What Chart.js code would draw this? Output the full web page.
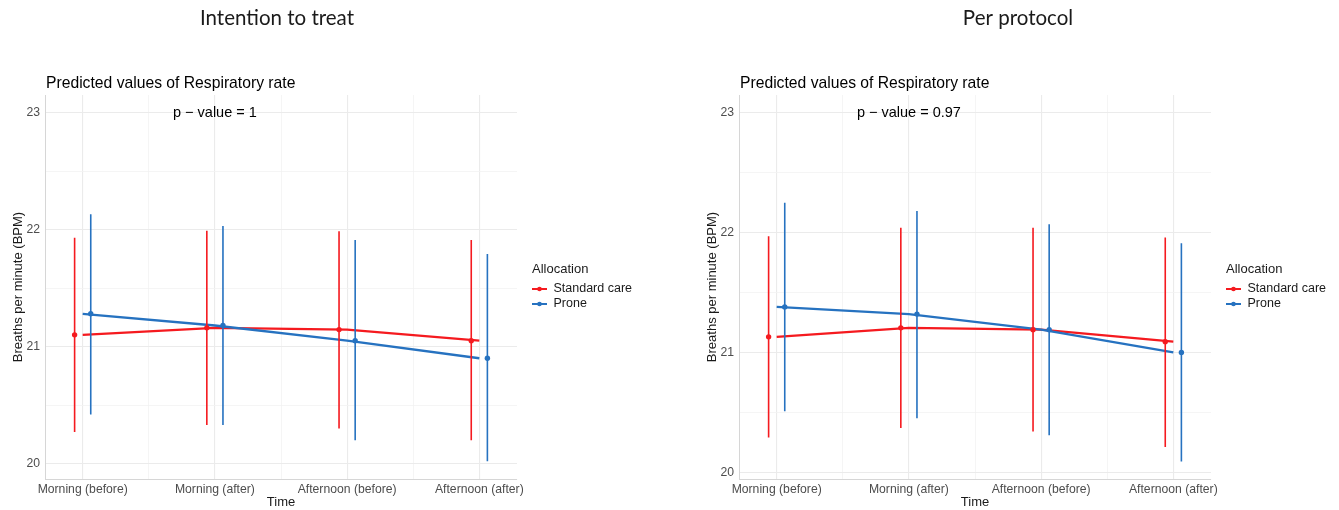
<!DOCTYPE html>
<html>
<head>
<meta charset="utf-8">
<script src="https://cdn.jsdelivr.net/npm/chart.js@4.4.1/dist/chart.umd.min.js"></script>
<style>
  html, body { margin: 0; padding: 0; background: #fff; width: 1339px; height: 510px; overflow: hidden; }
  .panel { position: absolute; top: 0; height: 510px; }
</style>
</head>
<body>
<div class="panel" style="left:0;width:669px"><canvas id="itt" width="669" height="510"></canvas></div>
<div class="panel" style="left:694px;width:645px"><canvas id="pp" width="645" height="510"></canvas></div>
<script>
// Time points on the x axis
const categories = ['Morning (before)', 'Morning (after)', 'Afternoon (before)', 'Afternoon (after)'];
const seriesNames = ['Standard care', 'Prone'];
const yTickValues = [20, 20.5, 21, 21.5, 22, 22.5, 23];

// Intention to treat: predicted respiratory rate with 95% CI
const ittStdMean   = [21.10, 21.16, 21.145, 21.05];
const ittStdLow    = [20.27, 20.33, 20.30, 20.20];
const ittStdHigh   = [21.93, 21.99, 21.985, 21.91];
const ittProneMean = [21.28, 21.18, 21.05, 20.90];
const ittProneLow  = [20.42, 20.33, 20.20, 20.02];
const ittProneHigh = [22.13, 22.03, 21.91, 21.79];

// Per protocol: predicted respiratory rate with 95% CI
const ppStdMean   = [21.13, 21.205, 21.19, 21.09];
const ppStdLow    = [20.29, 20.37, 20.34, 20.21];
const ppStdHigh   = [21.97, 22.04, 22.04, 21.96];
const ppProneMean = [21.38, 21.32, 21.19, 21.00];
const ppProneLow  = [20.51, 20.45, 20.31, 20.09];
const ppProneHigh = [22.25, 22.18, 22.07, 21.91];

const RED = '#f51a1f';
const BLUE = '#2672c0';
const DODGE = 0.061;

Chart.defaults.font.family = '"Liberation Sans", Arial, sans-serif';
Chart.defaults.font.size = 12.2;
Chart.defaults.color = '#4d4d4d';

function lineData(mean) {
  return mean.map((v, i) => ({ x: i, y: v }));
}
function pointData(mean, off) {
  return mean.map((v, i) => ({ x: i + off, y: v }));
}
function barData(low, high, off) {
  const d = [];
  low.forEach((lo, i) => {
    d.push({ x: i + off, y: lo }, { x: i + off, y: high[i] }, { x: i + off, y: null });
  });
  return d;
}

// Headings, axis titles, annotation and legend drawn on top of the plot
const panelText = {
  id: 'panelText',
  afterDraw(chart, args, opts) {
    const ctx = chart.ctx;
    const ca = chart.chartArea;
    const xs = chart.scales.x, ys = chart.scales.y;
    ctx.save();

    ctx.fillStyle = '#1a1a1a';
    ctx.font = '20.5px Lato, sans-serif';
    ctx.textAlign = 'center';
    ctx.textBaseline = 'alphabetic';
    ctx.fillText(opts.heading, opts.headingX, 25);

    ctx.fillStyle = '#000';
    ctx.font = '15.7px "Liberation Sans", Arial, sans-serif';
    ctx.textAlign = 'left';
    ctx.fillText('Predicted values of Respiratory rate', ca.left + 1, 88);

    ctx.font = '14.5px "Liberation Sans", Arial, sans-serif';
    ctx.textAlign = 'center';
    ctx.textBaseline = 'middle';
    ctx.fillText(opts.pText, xs.getPixelForValue(1), ys.getPixelForValue(23) + 0.5);

    ctx.fillStyle = '#1a1a1a';
    ctx.font = '13px "Liberation Sans", Arial, sans-serif';
    ctx.fillText('Time', (ca.left + ca.right) / 2, 502);

    ctx.save();
    ctx.translate(ca.left - 26.5, (ca.top + ca.bottom) / 2);
    ctx.rotate(-Math.PI / 2);
    ctx.fillText('Breaths per minute (BPM)', 0, 0);
    ctx.restore();

    // Legend
    const lx = ca.right + 15;
    ctx.textAlign = 'left';
    ctx.font = '13px "Liberation Sans", Arial, sans-serif';
    ctx.fillText('Allocation', lx, 269);
    const colors = [RED, BLUE];
    const rows = [289, 304];
    ctx.font = '12.5px "Liberation Sans", Arial, sans-serif';
    seriesNames.forEach((name, i) => {
      ctx.strokeStyle = colors[i];
      ctx.fillStyle = colors[i];
      ctx.lineWidth = 2;
      ctx.beginPath();
      ctx.moveTo(lx, rows[i]);
      ctx.lineTo(lx + 15, rows[i]);
      ctx.stroke();
      ctx.beginPath();
      ctx.arc(lx + 7.5, rows[i], 2.3, 0, Math.PI * 2);
      ctx.fill();
      ctx.fillStyle = '#1a1a1a';
      ctx.fillText(name, lx + 21.5, rows[i]);
    });
    ctx.restore();
  }
};

function makeChart(id, cfg) {
  const canvas = document.getElementById(id);
  const W = canvas.width;
  const gridColor = (c) => (Number.isInteger(c.tick.value) ? '#ebebeb' : '#f3f3f3');
  const gridWidth = (c) => (Number.isInteger(c.tick.value) ? 1.1 : 0.8);
  return new Chart(canvas, {
    type: 'line',
    data: {
      datasets: [
        { data: lineData(cfg.stdMean), borderColor: RED, borderWidth: 2.3, pointRadius: 0, order: 6 },
        { data: lineData(cfg.proneMean), borderColor: BLUE, borderWidth: 2.3, pointRadius: 0, order: 5 },
        { data: barData(cfg.stdLow, cfg.stdHigh, -DODGE), borderColor: RED, borderWidth: 1.6, pointRadius: 0, spanGaps: false, order: 4 },
        { data: barData(cfg.proneLow, cfg.proneHigh, DODGE), borderColor: BLUE, borderWidth: 1.6, pointRadius: 0, spanGaps: false, order: 3 },
        { data: pointData(cfg.stdMean, -DODGE), showLine: false, pointRadius: 2.7, pointBorderWidth: 0, pointBackgroundColor: RED, borderColor: RED, order: 2 },
        { data: pointData(cfg.proneMean, DODGE), showLine: false, pointRadius: 2.7, pointBorderWidth: 0, pointBackgroundColor: BLUE, borderColor: BLUE, order: 1 }
      ]
    },
    options: {
      responsive: false,
      animation: false,
      devicePixelRatio: 1,
      events: [],
      layout: { padding: { left: 0, top: 95, right: W - 517, bottom: 0 } },
      elements: { line: { tension: 0, borderCapStyle: 'butt' } },
      plugins: {
        legend: { display: false },
        tooltip: { enabled: false },
        panelText: { heading: cfg.heading, headingX: cfg.headingX, pText: cfg.pText }
      },
      scales: {
        x: {
          type: 'linear',
          min: -0.285,
          max: 3.285,
          afterBuildTicks: (s) => { s.ticks = [0, 0.5, 1, 1.5, 2, 2.5, 3].map((v) => ({ value: v })); },
          afterFit: (s) => { s.height = 31; },
          ticks: {
            autoSkip: false, maxRotation: 0, padding: 3,
            callback: (v) => (Number.isInteger(v) ? categories[v] : '')
          },
          grid: { drawTicks: false, color: gridColor, lineWidth: gridWidth },
          border: { display: true, color: '#d6d6d6', width: 1 }
        },
        y: {
          type: 'linear',
          min: cfg.yMin,
          max: cfg.yMax,
          afterBuildTicks: (s) => { s.ticks = yTickValues.map((v) => ({ value: v })); },
          afterFit: (s) => { s.width = 45; },
          ticks: {
            padding: 5,
            callback: (v) => (Number.isInteger(v) ? String(v) : '')
          },
          grid: { drawTicks: false, color: gridColor, lineWidth: gridWidth },
          border: { display: true, color: '#d6d6d6', width: 1 }
        }
      }
    },
    plugins: [panelText]
  });
}

makeChart('itt', {
  heading: 'Intention to treat', headingX: 277, pText: 'p \u2212 value = 1',
  yMin: 19.868, yMax: 23.15,
  stdMean: ittStdMean, stdLow: ittStdLow, stdHigh: ittStdHigh,
  proneMean: ittProneMean, proneLow: ittProneLow, proneHigh: ittProneHigh
});

makeChart('pp', {
  heading: 'Per protocol', headingX: 324, pText: 'p \u2212 value = 0.97',
  yMin: 19.944, yMax: 23.148,
  stdMean: ppStdMean, stdLow: ppStdLow, stdHigh: ppStdHigh,
  proneMean: ppProneMean, proneLow: ppProneLow, proneHigh: ppProneHigh
});
</script>
</body>
</html>
